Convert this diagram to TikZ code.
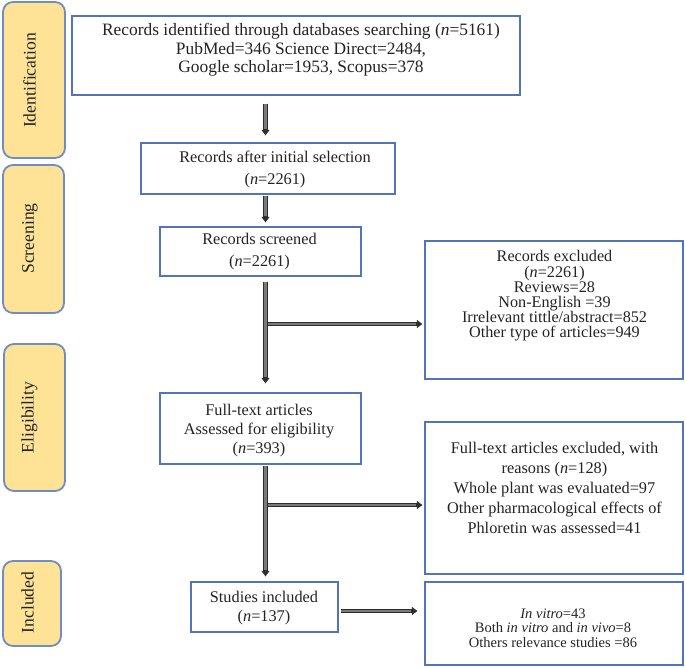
\documentclass[tikz,border=0pt]{standalone}
\usepackage{fontspec}
\setmainfont{Liberation Serif}
\usetikzlibrary{arrows.meta,calc}
\definecolor{boxblue}{RGB}{84,116,186}
\definecolor{sideblue}{RGB}{112,140,196}
\definecolor{sidefill}{RGB}{254,227,150}
\definecolor{txt}{RGB}{35,35,35}
\begin{document}
\begin{tikzpicture}[x=1pt,y=-1pt,
  mainbox/.style={draw=boxblue, line width=1.3pt, rectangle, inner sep=0pt},
  sidebox/.style={draw=sideblue, fill=sidefill, line width=1.8pt, rounded corners=10pt, inner sep=0pt},
  lbl/.style={inner sep=0pt, align=center, text=txt},
  sidetext/.style={rotate=90, inner sep=0pt, text=txt, font=\fontsize{17.6}{20}\selectfont},
  fat/.style={line width=4.2pt, draw=black!82,
    -{Triangle[length=5.5pt,width=8pt,line width=0.4pt]},
    postaction={draw=black!52, line width=2.2pt, arrows=-, shorten >=6pt}}
]
\useasboundingbox (0,0) rectangle (685,668);

% side labels
\node[sidebox, minimum width=62, minimum height=156] (s1) at (34,80) {};
\node[sidebox, minimum width=61, minimum height=148] (s2) at (33.5,239) {};
\node[sidebox, minimum width=61, minimum height=147] (s3) at (34.5,417.5) {};
\node[sidebox, minimum width=58, minimum height=85] (s4) at (32,603.5) {};
\node[sidetext] (l1) at (29.5,80.5) {Identification};
\node[sidetext] (l2) at (30,238.5) {Screening};
\node[sidetext] (l3) at (29.5,417.5) {Eligibility};
\node[sidetext] (l4) at (27.5,602.5) {Included};

% main boxes
\node[mainbox, minimum width=448, minimum height=79] (b1) at (296,55.5) {};
\node[mainbox, minimum width=254, minimum height=51] (b2) at (268,168.5) {};
\node[mainbox, minimum width=201, minimum height=49] (b3) at (260.5,251.5) {};
\node[mainbox, minimum width=258, minimum height=138] (b4) at (554,310) {};
\node[mainbox, minimum width=201, minimum height=71] (b5) at (260.5,428.5) {};
\node[mainbox, minimum width=258, minimum height=152] (b6) at (554,498) {};
\node[mainbox, minimum width=147, minimum height=50] (b7) at (264.5,607) {};
\node[mainbox, minimum width=258, minimum height=83] (b8) at (554,623.5) {};

% texts
\node[lbl, font=\fontsize{17.4}{18.3}\selectfont] (t1) at (301,50)
  {Records identified through databases searching (\textit{n}=5161)\\
   PubMed=346 Science Direct=2484,\\
   Google scholar=1953, Scopus=378};
\node[lbl, font=\fontsize{16.3}{22}\selectfont] (t2) at (275,169)
  {Records after initial selection\\(\textit{n}=2261)};
\node[lbl, font=\fontsize{16.3}{22}\selectfont] (t3) at (259.5,252)
  {Records screened\\(\textit{n}=2261)};
\node[lbl, font=\fontsize{16.2}{15.2}\selectfont] (t4) at (554.5,296)
  {Records excluded\\(\textit{n}=2261)\\Reviews=28\\Non-English =39\\Irrelevant tittle/abstract=852\\Other type of articles=949};
\node[lbl, font=\fontsize{16.3}{19}\selectfont] (t5) at (259,431)
  {Full-text articles\\Assessed for eligibility\\(\textit{n}=393)};
\node[lbl, font=\fontsize{16.3}{20}\selectfont] (t6) at (554.5,488)
  {Full-text articles excluded, with\\reasons (\textit{n}=128)\\Whole plant was evaluated=97\\Other pharmacological effects of\\Phloretin was assessed=41};
\node[lbl, font=\fontsize{16.3}{19}\selectfont] (t7) at (264,608.5)
  {Studies included\\(\textit{n}=137)};
\node[lbl, font=\fontsize{14.5}{14.5}\selectfont] (t8) at (553,628)
  {\textit{In vitro}=43\\Both \textit{in vitro} and \textit{in vivo}=8\\Others relevance studies =86};

% connectors
\coordinate (spine) at (265.5,0);
\draw[fat] ($(b1.south -| spine)+(0,8)$) -- ($(b2.north -| spine)+(0,-7)$);
\draw[fat] ($(b2.south -| spine)+(0,1)$) -- ($(b3.north -| spine)+(0,-4)$);
\draw[fat] ($(b3.south -| spine)+(0,5)$) -- ($(b5.north -| spine)+(0,-9)$);
\draw[fat] ($(b5.south -| spine)+(0,1)$) -- ($(b7.north -| spine)+(0,-5)$);
\coordinate (j1) at (267.5,324);
\draw[fat] (j1) -- ($(j1 -| b4.west)+(-2,0)$);
\coordinate (j2) at (267.5,505);
\draw[fat] (j2) -- ($(j2 -| b6.west)+(-2,0)$);
\coordinate (j3) at ($(b7.east)+(2,4)$);
\draw[fat] (j3) -- ($(j3 -| b8.west)+(-7,0)$);
\end{tikzpicture}
\end{document}
